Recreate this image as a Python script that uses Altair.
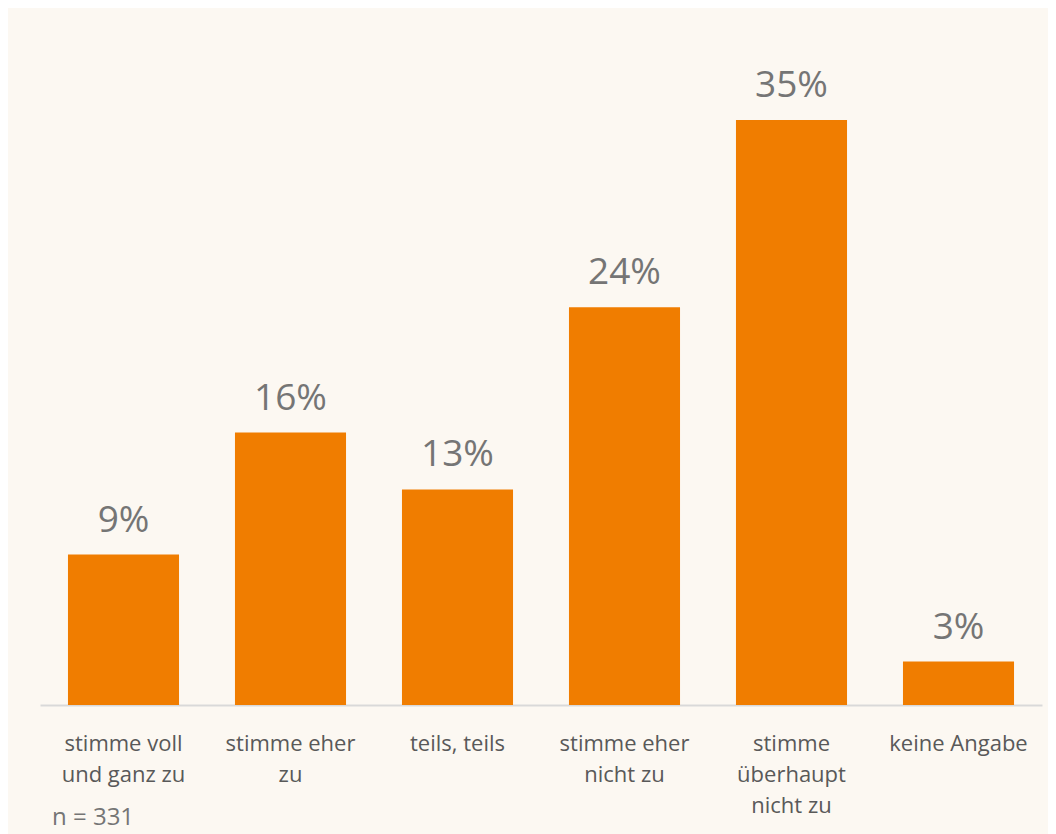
import altair as alt
import pandas as pd

categories = [
    "stimme voll|und ganz zu",
    "stimme eher|zu",
    "teils, teils",
    "stimme eher|nicht zu",
    "stimme|überhaupt|nicht zu",
    "keine Angabe",
]
values = [9.0, 16.3, 12.9, 23.8, 35.0, 2.6]
value_labels = ["9%", "16%", "13%", "24%", "35%", "3%"]
note = "n = 331"

df = pd.DataFrame({"cat": categories, "val": values, "lab": value_labels})

FONT = "Open Sans"
ORANGE = "#F07D00"
BG = "#FCF8F2"

x = alt.X(
    "cat:N",
    sort=None,
    title=None,
    scale=alt.Scale(paddingInner=0.335, paddingOuter=0.1675),
    axis=alt.Axis(
        labelExpr="split(datum.label, '|')",
        labelAngle=0,
        labelFont=FONT,
        labelFontSize=22,
        labelColor="#595959",
        labelLineHeight=31,
        labelPadding=28,
        labelBaseline="top",
        ticks=False,
        domainColor="#D9D9D9",
        domainWidth=2,
        labelLimit=220,
    ),
)
y = alt.Y("val:Q", scale=alt.Scale(domain=[0, 35], nice=False), axis=None)

bars = alt.Chart(df).mark_bar(color=ORANGE).encode(x=x, y=y)
texts = alt.Chart(df).mark_text(
    font=FONT, fontSize=37, color="#757575", baseline="alphabetic", dy=-23
).encode(x=x, y=y, text="lab:N")
note_mark = alt.Chart(pd.DataFrame({"t": [note]})).mark_text(
    font=FONT, fontSize=24, color="#757575", align="left", baseline="alphabetic"
).encode(x=alt.value(12), y=alt.value(705), text="t:N")

chart = (
    alt.layer(bars, texts, note_mark)
    .properties(
        width=1002,
        height=585,
        background=BG,
        padding={"left": 32, "top": 112, "right": 6, "bottom": 130},
        autosize=alt.AutoSizeParams(type="none"),
    )
    .configure_view(stroke=None)
)

chart.save("out.html", embed_options={"renderer": "svg", "actions": False})
